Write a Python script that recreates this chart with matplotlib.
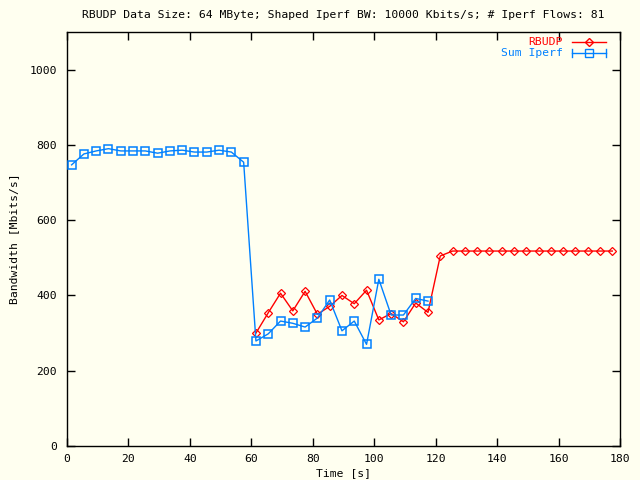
"""RBUDP vs. summed Iperf bandwidth over time (gnuplot-style look)."""
import matplotlib
matplotlib.use("Agg")
import matplotlib.pyplot as plt

# ── Data ──────────────────────────────────────────────────────────────────────
iperf_t = [1.5 + 4 * i for i in range(30)]
iperf_bw = [747, 776, 784, 790, 784, 784, 784, 778, 784, 786, 781, 781, 786, 781, 754,
            279, 298, 332, 326, 316, 340, 388, 306, 332, 270, 443, 348, 348, 392, 385]

rbudp_t = [61.5 + 4 * i for i in range(30)]
rbudp_bw = [300, 354, 406, 359, 411, 350, 371, 400, 378, 414, 335, 352, 330, 380, 355,
            505, 518, 518, 518, 518, 518, 518, 518, 518, 518, 518, 518, 518, 518, 518]

x_ticks = [0, 20, 40, 60, 80, 100, 120, 140, 160, 180]
y_ticks = [0, 200, 400, 600, 800, 1000]

# ── Style ─────────────────────────────────────────────────────────────────────
BG = "#FFFFF0"
RED = "#FF0000"
BLUE = "#0080FF"
FONT = "DejaVu Sans Mono"
FS = 8.2

fig = plt.figure(figsize=(6.4, 4.8), dpi=100, facecolor=BG)
ax = fig.add_axes([67 / 640, 34 / 480, 553 / 640, 414 / 480])
ax.set_facecolor(BG)

ax.plot(rbudp_t, rbudp_bw, color=RED, lw=1.0, marker="D", ms=4.5,
        mfc="none", mec=RED, mew=0.9, zorder=3)
ax.plot(iperf_t, iperf_bw, color=BLUE, lw=1.0, marker="s", ms=6,
        mfc="none", mec=BLUE, mew=1.1, zorder=4)

ax.set_xlim(0, 180)
ax.set_ylim(0, 1100)
ax.set_xticks(x_ticks)
ax.set_yticks(y_ticks)
ax.tick_params(direction="in", length=6, width=1, top=True, right=True,
               labelsize=FS)
ax.tick_params(axis="x", pad=6)
ax.tick_params(axis="y", pad=7)
for lbl in ax.get_xticklabels() + ax.get_yticklabels():
    lbl.set_family(FONT)
for sp in ax.spines.values():
    sp.set_linewidth(1.0)

ax.set_xlabel("Time [s]", family=FONT, fontsize=FS, labelpad=3)
ax.set_ylabel("Bandwidth [Mbits/s]", family=FONT, fontsize=FS, labelpad=8)
ax.set_title("RBUDP Data Size: 64 MByte; Shaped Iperf BW: 10000 Kbits/s; # Iperf Flows: 81",
             family=FONT, fontsize=FS, pad=10)

# ── Legend (gnuplot style, drawn by hand) ────────────────────────────────────
tr = ax.transAxes
x_txt, x0, x1 = 0.897, 0.913, 0.975
for y, name, col, mk, ms in [(0.976, "RBUDP", RED, "D", 4.5),
                              (0.949, "Sum Iperf", BLUE, "s", 6)]:
    ax.text(x_txt, y, name, transform=tr, ha="right", va="center",
            family=FONT, fontsize=FS, color=col)
    ax.plot([x0, x1], [y, y], transform=tr, color=col, lw=1.0, clip_on=False)
    ax.plot([(x0 + x1) / 2], [y], transform=tr, marker=mk, ms=ms, mfc="none",
            mec=col, mew=1.0, clip_on=False)
    if name == "Sum Iperf":
        for xe in (x0, x1):
            ax.plot([xe, xe], [y - 0.01, y + 0.01], transform=tr, color=col,
                    lw=1.0, clip_on=False)

fig.savefig("out.png", dpi=100, facecolor=BG)
